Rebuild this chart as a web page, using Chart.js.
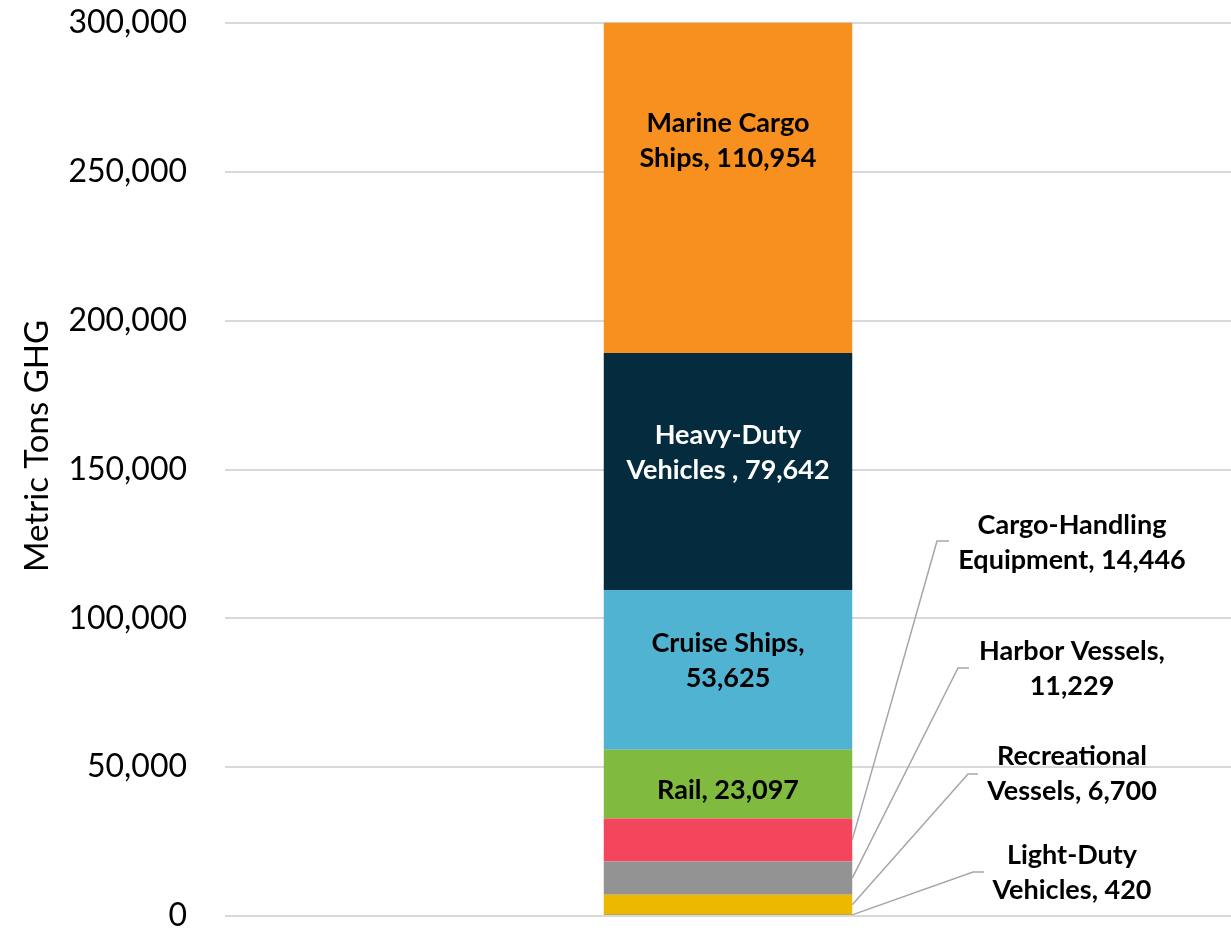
<!DOCTYPE html>
<html>
<head>
<meta charset="utf-8">
<script src="https://cdn.jsdelivr.net/npm/chart.js@4/dist/chart.umd.min.js"></script>
<style>
  body { margin: 0; background: #fff; }
  #wrap { width: 1231px; height: 930px; }
</style>
</head>
<body>
<div id="wrap"><canvas id="ghg_chart" width="1231" height="930"></canvas></div>
<script>
// bottom of the stack first
const sources = [
  "Light-Duty Vehicles",
  "Recreational Vessels",
  "Harbor Vessels",
  "Cargo-Handling Equipment",
  "Rail",
  "Cruise Ships",
  "Heavy-Duty Vehicles",
  "Marine Cargo Ships",
];
const tons = [420, 6700, 11229, 14446, 23097, 53625, 79642, 110954];
const colors = ["#1c4a5c", "#ecb800", "#939393", "#f3455c", "#80bb3f", "#50b3d1", "#042c3e", "#f7901e"];
// label text, {v} gets the value
const labelText = [
  ["Light-Duty", "Vehicles, {v}"],
  ["Recreational", "Vessels, {v}"],
  ["Harbor Vessels,", "{v}"],
  ["Cargo-Handling", "Equipment, {v}"],
  ["Rail, {v}"],
  ["Cruise Ships,", "{v}"],
  ["Heavy-Duty", "Vehicles , {v}"],
  ["Marine Cargo", "Ships, {v}"],
];
const yTicks = [0, 50000, 100000, 150000, 200000, 250000, 300000];
const yTitle = "Metric Tons GHG";

const fmt = (n) => n.toLocaleString("en-US");

// where the small segments get their callouts (text centre, elbow of the leader line)
const callouts = {
  0: { x: 1072, y: 873, elbowX: 973, elbowY: 872, endX: 984 },
  1: { x: 1072, y: 774, elbowX: 968, elbowY: 774, endX: 978 },
  2: { x: 1072, y: 669, elbowX: 958, elbowY: 668, endX: 969 },
  3: { x: 1072, y: 543, elbowX: 937, elbowY: 541, endX: 949 },
};
// nudges for the labels inside the bar
const insideShift = { 4: 6, 5: -9, 6: -19, 7: -47 };

const labelPlugin = {
  id: "segLabels",
  afterDatasetsDraw(chart) {
    const ctx = chart.ctx;
    ctx.save();
    ctx.font = "bold 27px Lato";
    ctx.textAlign = "center";
    ctx.textBaseline = "middle";
    const lineH = 35;
    chart.data.datasets.forEach((ds, i) => {
      const bar = chart.getDatasetMeta(i).data[0];
      const lines = labelText[i].map((l) => l.replace("{v}", fmt(tons[i])));
      const midY = (bar.y + bar.base) / 2;
      if (callouts[i]) {
        const c = callouts[i];
        const right = bar.x + bar.width / 2;
        ctx.strokeStyle = "#a6a6a6";
        ctx.lineWidth = 1.5;
        ctx.beginPath();
        ctx.moveTo(right, midY);
        ctx.lineTo(c.elbowX, c.elbowY);
        ctx.lineTo(c.endX, c.elbowY);
        ctx.stroke();
        ctx.fillStyle = "#000";
        lines.forEach((l, k) => {
          ctx.fillText(l, c.x, c.y + (k - (lines.length - 1) / 2) * lineH);
        });
      } else {
        const cy = midY + (insideShift[i] || 0);
        ctx.fillStyle = i == 6 ? "#fff" : "#000";
        lines.forEach((l, k) => {
          ctx.fillText(l, bar.x, cy + (k - (lines.length - 1) / 2) * lineH);
        });
      }
    });

    // axis title, sits a bit above the middle in the original
    ctx.translate(37, 446);
    ctx.rotate(-Math.PI / 2);
    ctx.font = "33px Lato";
    ctx.fillStyle = "#000";
    ctx.fillText(yTitle, 0, 0);
    ctx.restore();
  },
};

const datasets = sources.map((name, i) => ({
  label: name,
  data: [tons[i]],
  backgroundColor: colors[i],
  borderWidth: 0,
  barPercentage: 0.247,
  categoryPercentage: 1,
  clip: false,
}));

new Chart(document.getElementById("ghg_chart"), {
  type: "bar",
  data: { labels: [""], datasets: datasets },
  options: {
    responsive: false,
    animation: false,
    layout: { padding: { top: 23, bottom: 14, left: 0, right: 0 } },
    plugins: { legend: { display: false }, tooltip: { enabled: false } },
    scales: {
      x: { stacked: true, display: false },
      y: {
        stacked: true,
        min: 0,
        max: 300000,
        afterBuildTicks: (scale) => {
          scale.ticks = yTicks.map((v) => ({ value: v }));
        },
        afterFit: (scale) => {
          scale.width = 225;
          scale.paddingTop = 0;
          scale.paddingBottom = 0;
        },
        border: { display: false },
        grid: { color: "#d9d9d9", lineWidth: 2, drawTicks: false },
        ticks: {
          padding: 38,
          color: "#000",
          font: { family: "Lato", size: 32 },
          callback: (v) => fmt(v),
        },
      },
    },
  },
  plugins: [labelPlugin],
});
</script>
</body>
</html>
